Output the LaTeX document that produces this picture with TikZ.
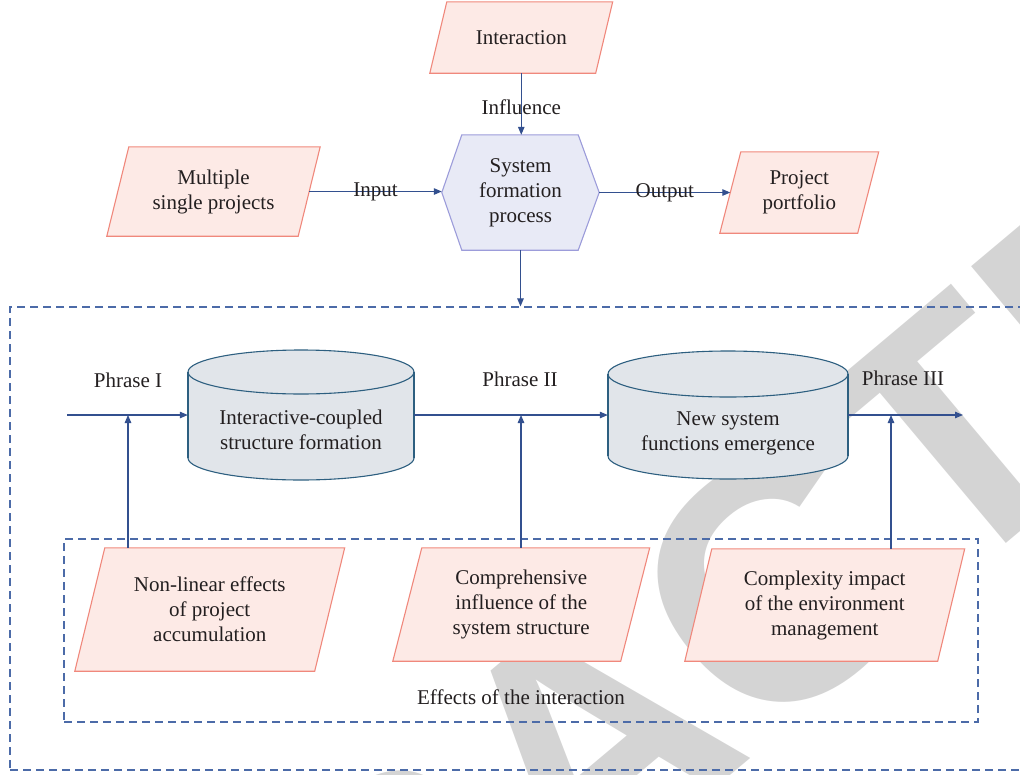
\documentclass[tikz,border=0pt]{standalone}
\usepackage{fontspec}
\setmainfont{Liberation Serif}
\newfontfamily\wmfont{Liberation Sans}
\usetikzlibrary{arrows.meta}
\pgfdeclarelayer{wm}
\pgfdeclarelayer{bg}
\pgfsetlayers{wm,bg,main}
\definecolor{ink}{HTML}{231F20}
\definecolor{pinkfill}{HTML}{FDEAE6}
\definecolor{pinkline}{HTML}{F0887C}
\definecolor{hexfill}{HTML}{E8EAF6}
\definecolor{hexline}{HTML}{9C9CDA}
\definecolor{cylfill}{HTML}{E1E5EA}
\definecolor{cylline}{HTML}{2D5F80}
\definecolor{arrc}{HTML}{33508F}
\definecolor{dashc}{HTML}{4C6BA8}
\definecolor{wmgrey}{HTML}{D4D4D4}

% slanted box drawn round a named text node: #1 node, #2 half slant
\newcommand{\pgram}[2]{%
  \draw[pshape] ([xshift=#2pt]#1.north west) -- ([xshift=#2pt]#1.north east)
    -- ([xshift=-#2pt]#1.south east) -- ([xshift=-#2pt]#1.south west) -- cycle;}
% drum round a named node: #1 node, #2 x radius, #3 y radius, #4 half body height
\newcommand{\drum}[4]{%
  \begin{scope}[shift={(#1.center)}]
    \fill[cylfill] (-#2,-#4) rectangle (#2,#4);
    \fill[cylfill] (0,#4) ellipse [x radius=#2, y radius=#3];
    \fill[cylfill] (0,-#4) ellipse [x radius=#2, y radius=#3];
    \draw[cylpen] (-#2,-#4) -- (-#2,#4);
    \draw[cylpen] (#2,-#4) -- (#2,#4);
    \draw[cylpen] (0,-#4) ellipse [x radius=#2, y radius=#3];
    \begin{scope}
      \clip (-#2-5,#4) rectangle (#2+5,#4+#3+5);
      \draw[cylpen] (0,#4) ellipse [x radius=#2, y radius=#3];
    \end{scope}
  \end{scope}}

\begin{document}
\begin{tikzpicture}[x=1pt,y=-1pt,
  txt/.style={font=\fontsize{21}{25}\selectfont, text=ink, align=center, inner sep=0pt},
  pshape/.style={draw=pinkline, fill=pinkfill, line width=1.1pt},
  hshape/.style={draw=hexline, fill=hexfill, line width=1.1pt},
  cylpen/.style={draw=cylline, line width=1.1pt},
  arr/.style={draw=arrc, line width=1.1pt, -{Triangle[length=8pt,width=6.5pt]}},
  dbox/.style={draw=dashc, dash pattern=on 8pt off 5pt, line width=1.2pt, inner sep=0pt},
  wmtext/.style={font=\wmfont\bfseries\fontsize{340}{340}\selectfont, text=wmgrey, inner sep=0pt}]

\useasboundingbox (0,0) rectangle (1020,774);

% background stamp
\begin{pgfonlayer}{wm}
  \begin{scope}
    \clip (0,0) rectangle (1020,774);
    \node[wmtext, rotate=40, anchor=base west] (wmark) at (-140,1505) {RETRACTED};
  \end{scope}
\end{pgfonlayer}

% upper part
\node[txt, minimum width=165.5pt, minimum height=71pt] (inter) at (521.25,37.5) {Interaction};
\node[txt, minimum width=157pt, minimum height=115pt] (sfp) at (520.5,192.5) {System\\formation\\process};
\node[txt, minimum width=191pt, minimum height=89pt] (msp) at (213.5,191.5) {Multiple\\single projects};
\node[txt, minimum width=137.5pt, minimum height=81pt] (pp) at (799.25,192.5) {Project\\portfolio};

% frames
\node[dbox, minimum width=1011pt, minimum height=463pt] (outer) at (515.5,538.5) {};
\node[dbox, minimum width=914pt, minimum height=183pt] (inner) at (521,630.5) {};

% drums
\node[inner sep=0pt, minimum width=226pt, minimum height=130pt] (c1) at (301,415) {};
\node[inner sep=0pt, minimum width=240pt, minimum height=130pt] (c2) at (728,415) {};
\node[txt] (c1t) at (301,430) {Interactive-coupled\\structure formation};
\node[txt] (c2t) at (728,433) {New system\\functions emergence};

% lower boxes
\node[txt, minimum width=239.5pt, minimum height=123pt] (p1) at (209.75,609.5) {Non-linear effects\\of project\\accumulation};
\node[txt, minimum width=227.5pt, minimum height=113pt] (p2) at (521.25,604.5) {Comprehensive\\influence of the\\system structure};
\node[txt, minimum width=252.5pt, minimum height=112pt] (p3) at (824.75,605) {Complexity impact\\of the environment\\management};
\node[txt] (eff) at (521,697) {Effects of the interaction};

% phase labels
\node[txt] (ph1) at (128,380) {Phrase I};
\node[txt] (ph2) at (520,379) {Phrase II};
\node[txt] (ph3) at (903,378) {Phrase III};

% shapes behind the texts
\begin{pgfonlayer}{bg}
  \pgram{inter}{8.5}
  \pgram{msp}{11}
  \pgram{pp}{10.5}
  \pgram{p1}{15}
  \pgram{p2}{14.5}
  \pgram{p3}{13.5}
  \draw[hshape] ([xshift=20pt]sfp.north west) -- ([xshift=-21pt]sfp.north east) -- (sfp.east)
    -- ([xshift=-21pt]sfp.south east) -- ([xshift=20pt]sfp.south west) -- (sfp.west) -- cycle;
  \drum{c1}{113}{22}{43}
  \drum{c2}{120}{23}{41}
\end{pgfonlayer}

% connectors of the upper part
\draw[arr] (inter.south) -- node[txt, pos=0.56] (infl) {Influence} (inter.south |- sfp.north);
\draw[arr] (msp.east) -- node[txt] (inp) {Input} (msp.east -| sfp.west);
\draw[arr] (sfp.east) -- node[txt] (outp) {Output} (sfp.east -| pp.west);
\draw[arr] (sfp.south) -- (sfp.south |- outer.north);

% main flow
\coordinate (fs) at (67,415);
\coordinate (fe) at (963,415);
\coordinate (j1) at (128,415);
\coordinate (j2) at (521,415);
\coordinate (j3) at (891,415);
\draw[arr] (fs) -- (c1.west);
\draw[arr] (c1.east) -- (c2.west);
\draw[arr] (c2.east) -- (fe);
\draw[arr] (p1.north -| j1) -- (j1);
\draw[arr] (p2.north -| j2) -- (j2);
\draw[arr] (p3.north -| j3) -- (j3);
\end{tikzpicture}
\end{document}
